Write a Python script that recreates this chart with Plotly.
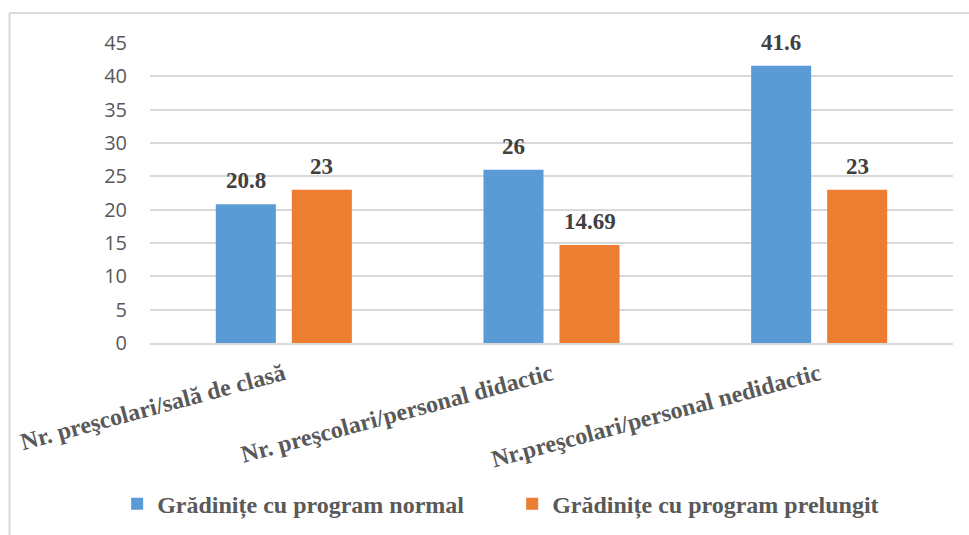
import plotly.graph_objects as go

# Indicators per kindergarten type
categories = [
    "Nr. preşcolari/sală de clasă",
    "Nr. preşcolari/personal didactic",
    "Nr.preşcolari/personal nedidactic",
]
series_names = ["Grădinițe cu program normal", "Grădinițe cu program prelungit"]
normal_values = [20.8, 26, 41.6]
extended_values = [23, 14.69, 23]
y_ticks = [0, 5, 10, 15, 20, 25, 30, 35, 40, 45]

colors = ["#5b9bd5", "#ed7d31"]
serif = "Liberation Serif, Times New Roman, serif"
grid = "#d9d9d9"

W, H = 969, 535
margin = dict(l=150, r=16, t=43, b=192, autoexpand=False)
bargap = 0.432
plot_w = W - margin["l"] - margin["r"]

# half the width of one bar slot inside a group, in px, for the value labels
slot_px = plot_w / len(categories) * (1 - bargap) / 2
offsets = [-slot_px / 2, slot_px / 2]

fig = go.Figure()
annotations = []
for name, vals, col, dx in zip(series_names, [normal_values, extended_values], colors, offsets):
    fig.add_trace(go.Bar(
        x=categories,
        y=vals,
        name=name,
        marker=dict(color=col, line=dict(width=0)),
    ))
    for cat, v in zip(categories, vals):
        annotations.append(dict(
            x=cat, y=v, xref="x", yref="y",
            text=f"{v:g}",
            showarrow=False,
            xanchor="center", yanchor="bottom",
            xshift=dx, yshift=9,
            font=dict(family=serif, size=23, color="#404040", weight="bold"),
        ))

fig.update_layout(
    width=W,
    height=H,
    margin=margin,
    paper_bgcolor="white",
    plot_bgcolor="white",
    barmode="group",
    bargap=bargap,
    bargroupgap=0.21,
    showlegend=True,
    annotations=annotations,
    legend=dict(
        orientation="h",
        x=0.451,
        xanchor="center",
        y=-0.537,
        yanchor="middle",
        entrywidth=350,
        font=dict(family=serif, size=24, color="#595959", weight="bold"),
        bgcolor="rgba(0,0,0,0)",
    ),
    xaxis=dict(
        tickangle=-15,
        tickfont=dict(family=serif, size=24, color="#595959", weight="bold"),
        showgrid=False,
        showline=True,
        linecolor=grid,
        linewidth=2,
        ticks="",
        ticklabelstandoff=6,
        automargin=False,
    ),
    yaxis=dict(
        range=[0, 45],
        tickvals=y_ticks,
        tickfont=dict(family="Open Sans, sans-serif", size=20, color="#595959"),
        showgrid=True,
        gridcolor=grid,
        gridwidth=1.5,
        zeroline=False,
        showline=False,
        ticks="",
        ticklabelstandoff=22,
        automargin=False,
    ),
    shapes=[
        # chart frame (top and left edges)
        dict(type="line", xref="paper", yref="paper",
             x0=(9.5 - 150) / plot_w, x1=(975 - 150) / plot_w,
             y0=(343 - 13) / 300, y1=(343 - 13) / 300,
             line=dict(color=grid, width=2)),
        dict(type="line", xref="paper", yref="paper",
             x0=(9.5 - 150) / plot_w, x1=(9.5 - 150) / plot_w,
             y0=(343 - 13) / 300, y1=(343 - 540) / 300,
             line=dict(color=grid, width=2)),
    ],
)

fig.write_html("out.html")
